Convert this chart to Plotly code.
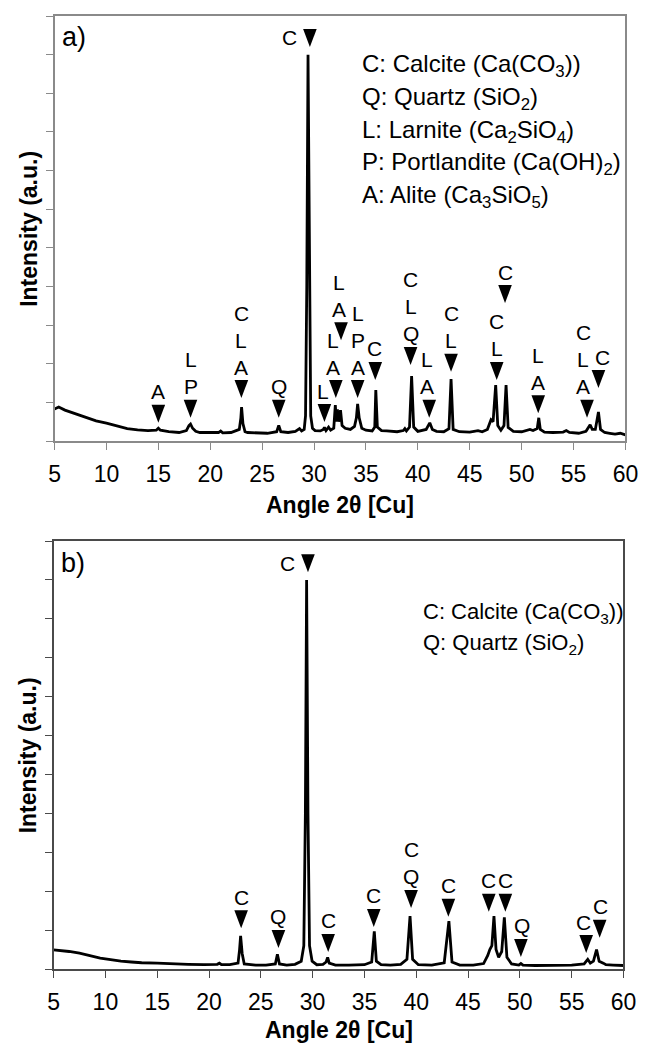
import plotly.graph_objects as go

# ---------------- data ----------------
pattern_a = [
    (5.0, 0.83), (5.4, 0.88), (6.0, 0.80), (7.0, 0.70), (8.0, 0.60), (9.0, 0.52),
    (10.0, 0.46), (11.0, 0.38), (12.0, 0.32), (13.0, 0.29), (14.0, 0.27), (14.8, 0.28),
    (15.0, 0.33), (15.2, 0.28), (16.0, 0.24), (17.0, 0.22), (17.7, 0.27), (17.95, 0.40),
    (18.1, 0.44), (18.3, 0.33), (18.6, 0.25), (19.0, 0.22), (20.0, 0.21), (20.8, 0.22),
    (21.0, 0.26), (21.2, 0.21), (22.0, 0.22), (22.8, 0.30), (22.95, 0.60), (23.02, 0.88),
    (23.15, 0.45), (23.35, 0.24), (23.6, 0.22), (24.5, 0.21), (25.5, 0.20), (26.4, 0.24),
    (26.6, 0.40), (26.8, 0.24), (27.5, 0.22), (28.2, 0.25), (28.6, 0.32), (28.8, 0.26),
    (29.05, 0.30), (29.18, 0.65), (29.3, 4.0), (29.42, 10.0), (29.55, 4.0), (29.68, 0.65),
    (29.85, 0.33), (30.1, 0.27), (30.6, 0.26), (30.9, 0.30), (31.0, 0.35), (31.15, 0.27),
    (31.4, 0.36), (31.6, 0.28), (31.9, 0.33), (32.05, 0.93), (32.15, 0.50), (32.25, 0.82),
    (32.38, 0.50), (32.55, 0.80), (32.7, 0.40), (33.0, 0.33), (33.5, 0.30), (33.9, 0.38),
    (34.08, 0.60), (34.2, 0.96), (34.35, 0.60), (34.6, 0.33), (35.0, 0.28), (35.6, 0.26),
    (35.85, 0.36), (35.95, 1.32), (36.1, 0.36), (36.5, 0.27), (37.0, 0.26), (38.0, 0.24),
    (38.6, 0.27), (38.75, 0.32), (38.9, 0.26), (39.2, 0.36), (39.4, 1.68), (39.6, 0.36),
    (40.0, 0.25), (40.8, 0.30), (41.15, 0.47), (41.4, 0.30), (41.8, 0.25), (42.5, 0.24),
    (43.0, 0.32), (43.2, 1.60), (43.4, 0.30), (44.0, 0.24), (45.0, 0.23), (45.8, 0.27),
    (46.2, 0.24), (46.7, 0.30), (47.05, 0.55), (47.25, 0.50), (47.5, 1.45), (47.7, 0.40),
    (48.0, 0.28), (48.3, 0.40), (48.5, 1.45), (48.7, 0.35), (49.2, 0.25), (50.0, 0.24),
    (50.8, 0.30), (51.1, 0.27), (51.5, 0.32), (51.65, 0.60), (51.8, 0.30), (52.2, 0.23),
    (53.0, 0.22), (54.0, 0.23), (54.3, 0.27), (54.6, 0.22), (55.5, 0.20), (56.2, 0.25),
    (56.6, 0.42), (56.8, 0.30), (57.1, 0.30), (57.4, 0.75), (57.6, 0.30), (58.0, 0.22),
    (58.5, 0.20), (59.0, 0.18), (59.5, 0.20), (60.0, 0.16),
]

pattern_b = [
    (5.0, 0.49), (5.5, 0.48), (6.5, 0.45), (7.5, 0.41), (8.5, 0.34), (9.5, 0.28),
    (10.5, 0.24), (11.5, 0.20), (12.5, 0.18), (13.5, 0.16), (15.0, 0.15), (16.5, 0.13),
    (18.0, 0.12), (19.5, 0.11), (20.8, 0.12), (21.0, 0.15), (21.2, 0.11), (22.0, 0.11),
    (22.8, 0.15), (22.95, 0.50), (23.05, 0.85), (23.2, 0.40), (23.4, 0.13), (24.5, 0.10),
    (25.5, 0.10), (26.4, 0.13), (26.6, 0.38), (26.8, 0.13), (27.5, 0.10), (28.3, 0.12),
    (28.9, 0.20), (29.15, 0.60), (29.3, 4.0), (29.42, 10.0), (29.55, 4.0), (29.7, 0.60),
    (29.95, 0.20), (30.4, 0.11), (31.0, 0.12), (31.3, 0.18), (31.45, 0.30), (31.6, 0.15),
    (32.2, 0.10), (33.5, 0.10), (35.0, 0.11), (35.7, 0.18), (35.95, 0.97), (36.15, 0.20),
    (36.6, 0.11), (37.5, 0.10), (38.5, 0.12), (39.1, 0.25), (39.4, 1.36), (39.65, 0.25),
    (40.2, 0.11), (41.5, 0.10), (42.7, 0.16), (43.15, 1.23), (43.45, 0.18), (44.2, 0.10),
    (45.5, 0.10), (46.5, 0.14), (46.9, 0.35), (47.1, 0.50), (47.3, 0.60), (47.5, 1.36),
    (47.7, 0.50), (47.95, 0.30), (48.25, 0.45), (48.5, 1.33), (48.75, 0.30), (49.2, 0.13),
    (49.9, 0.10), (50.1, 0.14), (50.3, 0.10), (51.5, 0.09), (53.0, 0.09), (55.0, 0.10),
    (56.2, 0.13), (56.55, 0.25), (56.8, 0.15), (57.1, 0.20), (57.4, 0.50), (57.65, 0.20),
    (58.05, 0.15), (58.3, 0.11), (59.0, 0.10), (60.0, 0.09),
]

# peak markers: (triangle x, triangle tip y, letters from bottom to top, letter x-offset px)
marks_a = [
    (15.0, 0.47, ["A"], 0), (18.1, 0.60, ["P", "L"], 0), (23.0, 1.11, ["A", "L", "C"], 0),
    (26.6, 0.60, ["Q"], 0), (31.0, 0.49, ["L"], -1), (32.1, 1.11, ["A", "L"], -3),
    (32.6, 2.61, ["A", "L"], -2), (34.2, 1.11, ["A", "P", "L"], 0), (35.9, 1.58, ["C"], -1),
    (39.3, 1.97, ["Q", "L", "C"], 0), (41.1, 0.60, ["A", "L"], -2), (43.2, 1.79, ["L", "C"], 0),
    (47.6, 1.58, ["L", "C"], 0), (48.4, 3.57, ["C"], 0), (51.6, 0.72, ["A", "L"], 0),
    (56.3, 0.60, ["A", "L", "C"], -4), (57.4, 1.37, ["C"], 4),
]
main_a = (29.6, 10.2, "C")

marks_b = [
    (23.1, 1.05, ["C"], 0), (26.7, 0.54, ["Q"], 0), (31.5, 0.44, ["C"], 0),
    (35.9, 1.08, ["C"], 0), (39.5, 1.57, ["Q", "C"], 0), (43.1, 1.34, ["C"], 0),
    (47.0, 1.47, ["C"], 0), (48.6, 1.47, ["C"], 0), (50.1, 0.31, ["Q"], 1),
    (56.4, 0.41, ["C"], -3), (57.7, 0.80, ["C"], 1),
]
main_b = (29.55, 10.2, "C")

legend_a = [
    "C: Calcite (Ca(CO<sub>3</sub>))",
    "Q: Quartz (SiO<sub>2</sub>)",
    "L: Larnite (Ca<sub>2</sub>SiO<sub>4</sub>)",
    "P: Portlandite (Ca(OH)<sub>2</sub>)",
    "A: Alite (Ca<sub>3</sub>SiO<sub>5</sub>)",
]
legend_b = [
    "C: Calcite (Ca(CO<sub>3</sub>))",
    "Q: Quartz (SiO<sub>2</sub>)",
]

x_ticks = [5, 10, 15, 20, 25, 30, 35, 40, 45, 50, 55, 60]
y_ticks = list(range(0, 12))
x_title = "Angle 2θ [Cu]"
y_title = "Intensity (a.u.)"

# ---------------- layout geometry ----------------
W, H = 653, 1048
FONT = "Liberation Sans, Arial, sans-serif"

panels = [
    dict(x0=50, x1=638, y0=16, y1=441, axcol="#8a8a8a", data=pattern_a, marks=marks_a,
         main=main_a, legend=legend_a, leg_x=365, leg_y0=65, leg_dy=33, leg_size=24,
         tag="a)", tag_y=37, xt_y=505),
    dict(x0=49, x1=636, y0=541, y1=969, axcol="#4a4a4a", data=pattern_b, marks=marks_b,
         main=main_b, legend=legend_b, leg_x=427, leg_y0=613, leg_dy=31, leg_size=22,
         tag="b)", tag_y=563, xt_y=1030),
]

fig = go.Figure()
shapes = []
annotations = []

for i, p in enumerate(panels):
    sfx = "" if i == 0 else str(i + 1)
    xa, ya = "x" + sfx, "y" + sfx
    xs = [d[0] for d in p["data"]]
    ys = [d[1] for d in p["data"]]
    fig.add_trace(go.Scatter(x=xs, y=ys, mode="lines", xaxis=xa, yaxis=ya,
                             line=dict(color="black", width=2.8), showlegend=False,
                             hoverinfo="skip"))

    ppx = (p["x1"] - p["x0"]) / 55.0
    ppy = (p["y1"] - p["y0"]) / 11.0
    dx = 7.0 / ppx
    dy = 18.0 / ppy

    def tri(x, tip):
        shapes.append(dict(type="path", xref=xa, yref=ya, layer="above",
                           path=f"M {x - dx},{tip + dy} L {x + dx},{tip + dy} L {x},{tip} Z",
                           fillcolor="black", line=dict(width=0)))

    for (x, tip, letters, lx) in p["marks"]:
        tri(x, tip)
        for k, letter in enumerate(letters):
            annotations.append(dict(x=x, y=tip + dy, xref=xa, yref=ya, text=letter,
                                    showarrow=False, yanchor="middle", xanchor="center",
                                    yshift=13 + 27 * k, xshift=lx,
                                    font=dict(family=FONT, size=21, color="black")))
    mx, mtip, mletter = p["main"]
    tri(mx, mtip)
    annotations.append(dict(x=mx, y=mtip + dy / 2, xref=xa, yref=ya, text=mletter,
                            showarrow=False, yanchor="middle", xanchor="center",
                            xshift=-20, font=dict(family=FONT, size=21, color="black")))

    for k, line in enumerate(p["legend"]):
        annotations.append(dict(x=p["leg_x"] / W, y=1 - (p["leg_y0"] + k * p["leg_dy"]) / H,
                                xref="paper", yref="paper", text=line, showarrow=False,
                                xanchor="left", yanchor="middle",
                                font=dict(family=FONT, size=p["leg_size"], color="black")))

    annotations.append(dict(x=(p["x0"] + 6) / W, y=1 - p["tag_y"] / H, xref="paper",
                            yref="paper", text=p["tag"], showarrow=False, xanchor="left",
                            yanchor="middle", font=dict(family=FONT, size=27, color="black")))
    annotations.append(dict(x=((p["x0"] + p["x1"]) / 2) / W, y=1 - p["xt_y"] / H,
                            xref="paper", yref="paper", text="<b>" + x_title + "</b>",
                            showarrow=False, xanchor="center", yanchor="middle",
                            font=dict(family=FONT, size=23, color="black")))
    annotations.append(dict(x=23 / W, y=1 - ((p["y0"] + p["y1"]) / 2) / H, xref="paper",
                            yref="paper", text="<b>" + y_title + "</b>", textangle=-90,
                            showarrow=False, xanchor="center", yanchor="middle",
                            font=dict(family=FONT, size=23, color="black")))

    axis_x = dict(domain=[p["x0"] / W, p["x1"] / W], range=[5, 60], tickvals=x_ticks,
                  ticks="outside", ticklen=7, tickcolor=p["axcol"], tickwidth=1.3,
                  showline=True, linecolor=p["axcol"], linewidth=1.5, mirror=True,
                  showgrid=False, zeroline=False, anchor=ya, ticklabelstandoff=5,
                  tickfont=dict(family=FONT, size=23, color="black"))
    axis_y = dict(domain=[1 - p["y1"] / H, 1 - p["y0"] / H], range=[0, 11], tickvals=y_ticks,
                  showticklabels=False, ticks="outside", ticklen=7, tickcolor=p["axcol"],
                  tickwidth=1.3, showline=True, linecolor=p["axcol"], linewidth=1.5,
                  mirror=True, showgrid=False, zeroline=False, anchor=xa)
    fig.layout["xaxis" + sfx] = axis_x
    fig.layout["yaxis" + sfx] = axis_y

fig.update_layout(width=W, height=H, margin=dict(l=0, r=0, t=0, b=0),
                  paper_bgcolor="white", plot_bgcolor="white",
                  shapes=shapes, annotations=annotations, showlegend=False)

fig.write_html("out.html")
